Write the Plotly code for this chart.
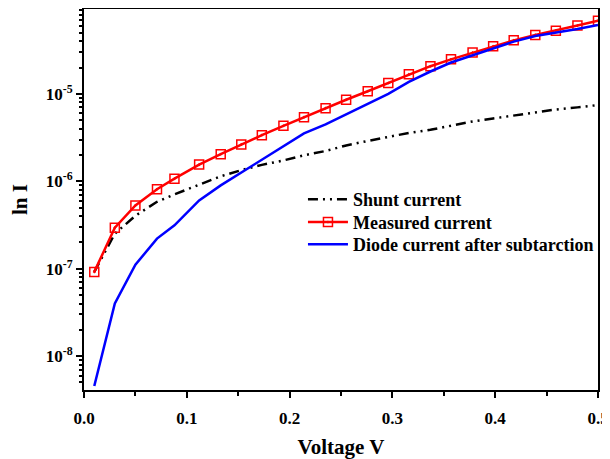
import plotly.graph_objects as go

voltage = [0.01, 0.03, 0.05, 0.071, 0.088, 0.112, 0.133, 0.153, 0.173, 0.194,
           0.214, 0.235, 0.255, 0.276, 0.296, 0.316, 0.337, 0.357, 0.378, 0.398,
           0.418, 0.439, 0.459, 0.480, 0.5]

measured = [9.2e-8, 2.95e-7, 5.3e-7, 8.1e-7, 1.07e-6, 1.55e-6, 2.04e-6, 2.64e-6, 3.37e-6, 4.31e-6,
            5.41e-6, 6.86e-6, 8.55e-6, 1.07e-5, 1.33e-5, 1.67e-5, 2.07e-5, 2.48e-5, 2.96e-5, 3.49e-5,
            4.09e-5, 4.72e-5, 5.28e-5, 6.03e-5, 6.87e-5]

shunt = [9.2e-8, 2.52e-7, 4.03e-7, 5.82e-7, 7.08e-7, 9.23e-7, 1.14e-6, 1.34e-6, 1.54e-6, 1.73e-6,
         1.98e-6, 2.22e-6, 2.57e-6, 2.89e-6, 3.21e-6, 3.57e-6, 3.88e-6, 4.29e-6, 4.83e-6, 5.22e-6,
         5.65e-6, 6.12e-6, 6.62e-6, 7.0e-6, 7.45e-6]

diode = [4.56e-9, 4.0e-8, 1.11e-7, 2.21e-7, 3.14e-7, 6.05e-7, 8.97e-7, 1.26e-6, 1.78e-6, 2.54e-6,
         3.52e-6, 4.47e-6, 5.8e-6, 7.55e-6, 1.0e-5, 1.37e-5, 1.80e-5, 2.28e-5, 2.76e-5, 3.35e-5,
         3.95e-5, 4.59e-5, 5.01e-5, 5.52e-5, 6.14e-5]

names = ["Shunt current", "Measured current", "Diode current after subtarction"]

y_major = [1e-8, 1e-7, 1e-6, 1e-5]
y_labels = ["10<sup>-8</sup>", "10<sup>-7</sup>", "10<sup>-6</sup>", "10<sup>-5</sup>"]
y_minor = [m * 10.0 ** e for e in range(-9, -4) for m in range(2, 10)]
x_ticks = [0.0, 0.1, 0.2, 0.3, 0.4, 0.5]
x_labels = ["0.0", "0.1", "0.2", "0.3", "0.4", "0.5"]
x_minor = [0.05, 0.15, 0.25, 0.35, 0.45]

FONT = "Liberation Serif"

fig = go.Figure()
fig.add_trace(go.Scatter(
    x=voltage, y=shunt, name=names[0], mode="lines", legend="legend",
    line=dict(color="black", width=2.5, dash="10px,5px,2px,5px,2px,5px"),
))
fig.add_trace(go.Scatter(
    x=voltage, y=measured, name=names[1], mode="lines+markers", legend="legend2",
    line=dict(color="#ff0000", width=2.5),
    marker=dict(symbol="square-open-dot", size=9, color="#ff0000",
                line=dict(width=1.5, color="#ff0000")),
))
fig.add_trace(go.Scatter(
    x=voltage, y=diode, name=names[2], mode="lines", legend="legend3",
    line=dict(color="#0000ff", width=2.5),
))

legend_font = dict(family=FONT, size=18, color="black", weight="bold")


def leg(y):
    return dict(x=0.426, y=y, xanchor="left", yanchor="middle",
                bgcolor="rgba(0,0,0,0)", borderwidth=0,
                font=legend_font, itemwidth=40)


# page body has an 8px margin, so the figure is drawn from (8, 8)
fig.update_layout(
    width=602, height=451,
    margin=dict(l=76, r=12, t=1, b=69),
    paper_bgcolor="white", plot_bgcolor="white",
    font=dict(family=FONT, size=17, color="black", weight="bold"),
    showlegend=True,
    legend=leg(0.500),
    legend2=leg(0.440),
    legend3=leg(0.382),
)

fig.update_xaxes(
    range=[0, 0.5], automargin=False,
    tickmode="array", tickvals=x_ticks, ticktext=x_labels,
    ticks="outside", ticklen=6, tickwidth=2, tickcolor="black",
    ticklabelstandoff=6,
    minor=dict(tickmode="array", tickvals=x_minor,
               ticks="outside", ticklen=4, tickwidth=2, tickcolor="black"),
    showline=True, linewidth=2, linecolor="black", mirror=True,
    showgrid=False, zeroline=False,
    tickfont=dict(family=FONT, size=17, color="black", weight="bold"),
    title=dict(text="Voltage V", font=dict(family=FONT, size=21, color="black", weight="bold"),
               standoff=26),
)

fig.update_yaxes(
    type="log", range=[-8.387, -4.03], automargin=False,
    tickmode="array", tickvals=y_major, ticktext=y_labels,
    ticks="outside", ticklen=6, tickwidth=2, tickcolor="black",
    minor=dict(tickmode="array", tickvals=y_minor,
               ticks="outside", ticklen=3, tickwidth=1.5, tickcolor="black"),
    showline=True, linewidth=2, linecolor="black", mirror=True,
    showgrid=False, zeroline=False,
    tickfont=dict(family=FONT, size=17, color="black", weight="bold"),
    title=dict(text="ln I", font=dict(family=FONT, size=21, color="black", weight="bold"),
               standoff=22),
)

fig.write_html("out.html")
